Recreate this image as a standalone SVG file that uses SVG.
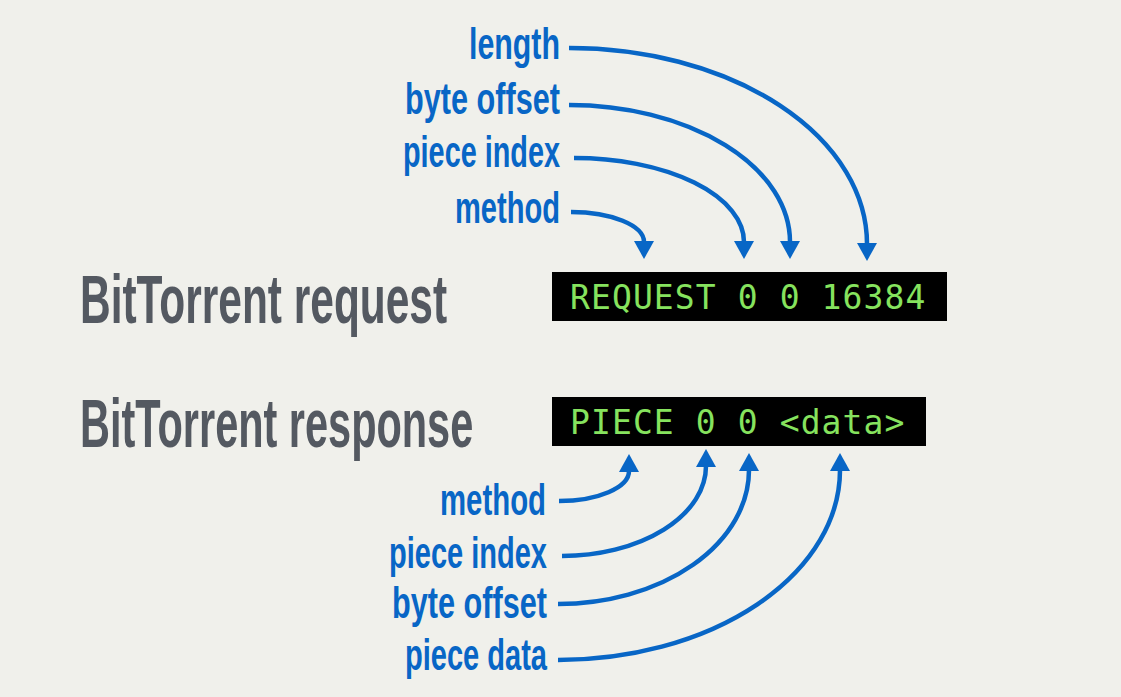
<svg xmlns="http://www.w3.org/2000/svg" width="1121" height="697" viewBox="0 0 1121 697">
<style>
.bg{fill:#f0f0eb}
.head{font-family:"Liberation Sans",Arial,sans-serif;font-weight:bold;font-size:68px;fill:#545961}
.lbl{font-family:"Liberation Sans",Arial,sans-serif;font-weight:bold;font-size:44px;fill:#0866c6;text-anchor:end}
.box{fill:#000000}
.code{font-family:"DejaVu Sans Mono","Liberation Mono",monospace;font-size:33px;letter-spacing:1.1px;fill:#86e35e}
.conn{fill:none;stroke:#0866c6;stroke-width:4.5}
</style>
<defs>
<marker id="ah" markerUnits="userSpaceOnUse" viewBox="0 0 18 20" markerWidth="18" markerHeight="20" refX="1" refY="10" orient="auto">
<path d="M0 0 L18 10 L0 20 Z" fill="#0866c6"/>
</marker>
</defs>
<rect class="bg" x="0" y="0" width="1121" height="697"/>
<g id="heading-request"><text class="head" transform="translate(80,323) scale(0.619,1)" x="0" y="0" textLength="593" lengthAdjust="spacingAndGlyphs">BitTorrent request</text></g>
<g id="heading-response"><text class="head" transform="translate(80,447) scale(0.605,1)" x="0" y="0" textLength="650" lengthAdjust="spacingAndGlyphs">BitTorrent response</text></g>
<g id="request-box"><rect class="box" x="552" y="272" width="395" height="49"/><text class="code" x="570" y="309">REQUEST 0 0 16384</text></g>
<g id="piece-box"><rect class="box" x="552" y="397" width="374" height="49"/><text class="code" x="570" y="434">PIECE 0 0 &lt;data&gt;</text></g>
<g id="req-length"><text class="lbl" x="560" y="59" textLength="91" lengthAdjust="spacingAndGlyphs">length</text></g>
<g id="req-byte-offset"><text class="lbl" x="560" y="114" textLength="155" lengthAdjust="spacingAndGlyphs">byte offset</text></g>
<g id="req-piece-index"><text class="lbl" x="560" y="167" textLength="157" lengthAdjust="spacingAndGlyphs">piece index</text></g>
<g id="req-method"><text class="lbl" x="560" y="223" textLength="105" lengthAdjust="spacingAndGlyphs">method</text></g>
<g id="res-method"><text class="lbl" x="546" y="515" textLength="106" lengthAdjust="spacingAndGlyphs">method</text></g>
<g id="res-piece-index"><text class="lbl" x="547" y="568" textLength="158" lengthAdjust="spacingAndGlyphs">piece index</text></g>
<g id="res-byte-offset"><text class="lbl" x="547" y="618" textLength="155" lengthAdjust="spacingAndGlyphs">byte offset</text></g>
<g id="res-piece-data"><text class="lbl" x="547" y="670" textLength="142" lengthAdjust="spacingAndGlyphs">piece data</text></g>
<g id="connectors">
<path class="conn" marker-end="url(#ah)" d="M569 48 A298 196 0 0 1 867 244"/>
<path class="conn" marker-end="url(#ah)" d="M569 105 A221 137 0 0 1 790 242"/>
<path class="conn" marker-end="url(#ah)" d="M574 158 A170 84 0 0 1 744 242"/>
<path class="conn" marker-end="url(#ah)" d="M571 212 A73 30 0 0 1 644 242"/>
<path class="conn" marker-end="url(#ah)" d="M559 501 A70 30 0 0 0 629 471"/>
<path class="conn" marker-end="url(#ah)" d="M562 556 A144 90 0 0 0 706 466"/>
<path class="conn" marker-end="url(#ah)" d="M558 604 A191 134 0 0 0 749 470"/>
<path class="conn" marker-end="url(#ah)" d="M558 660 A282 190 0 0 0 840 470"/>
</g>
</svg>
